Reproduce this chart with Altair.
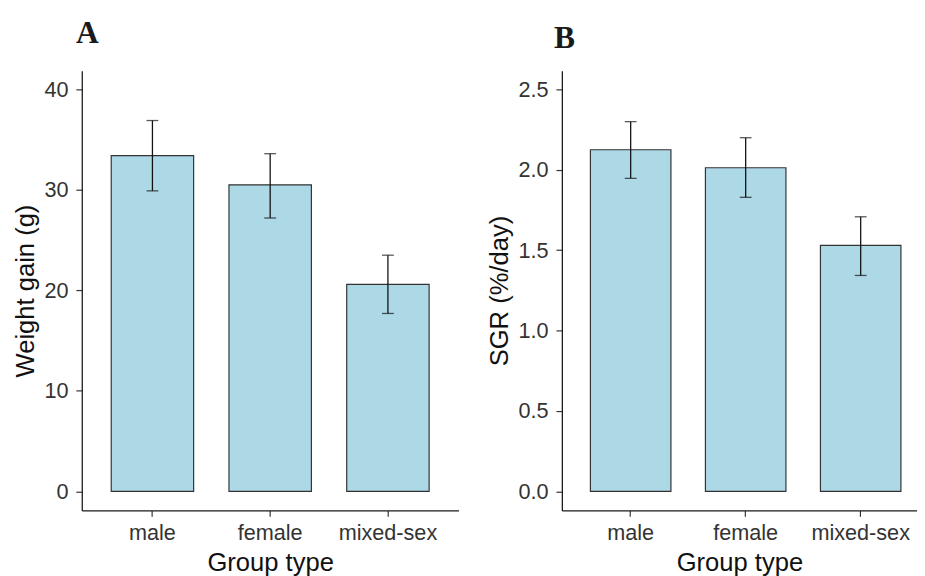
import altair as alt
import pandas as pd

groups = ["male", "female", "mixed-sex"]

weight_gain = [33.4, 30.5, 20.6]
weight_lo = [29.9, 27.2, 17.7]
weight_hi = [36.9, 33.6, 23.5]

sgr = [2.125, 2.013, 1.53]
sgr_lo = [1.947, 1.829, 1.343]
sgr_hi = [2.30, 2.20, 1.708]

weight_ticks = [0, 10, 20, 30, 40]
sgr_ticks = [0.0, 0.5, 1.0, 1.5, 2.0, 2.5]

LABEL_FONT = "Liberation Sans"
TITLE_FONT = "Liberation Serif"


def panel(values, lo, hi, ytitle, domain, ticks, fmt, width, x_scale, letter, t_dy, t_dx):
    df = pd.DataFrame({"group": groups, "value": values, "lo": lo, "hi": hi})
    x = alt.X(
        "group:N",
        sort=groups,
        scale=x_scale,
        axis=alt.Axis(title="Group type", labelAngle=0, labelPadding=7, titlePadding=6),
    )
    yscale = alt.Scale(domain=domain, nice=False, zero=False)
    base = alt.Chart(df).encode(x=x)
    bars = base.mark_bar(fill="#ADD8E6", stroke="#333333", strokeWidth=1.2).encode(
        y=alt.Y(
            "value:Q",
            scale=yscale,
            axis=alt.Axis(title=ytitle, values=ticks, format=fmt, labelPadding=8, titlePadding=6),
        )
    )
    rule = base.mark_rule(color="#111111", strokeWidth=1.3).encode(y="lo:Q", y2="hi:Q")
    cap_lo = base.mark_tick(color="#111111", size=12, thickness=1.3).encode(y="lo:Q")
    cap_hi = base.mark_tick(color="#111111", size=12, thickness=1.3).encode(y="hi:Q")
    return alt.layer(bars, rule, cap_lo, cap_hi).properties(
        width=width,
        height=447,
        title=alt.TitleParams(
            text=letter,
            anchor="start",
            frame="group",
            font=TITLE_FONT,
            fontSize=32,
            fontWeight="bold",
            color="#1a1a1a",
            baseline="alphabetic",
            offset=0,
            dy=t_dy,
            dx=t_dx,
        ),
    )


panel_a = panel(
    weight_gain, weight_lo, weight_hi, "Weight gain (g)", [-1.9, 41.86], weight_ticks, "d", 383,
    alt.Scale(paddingInner=0.3, paddingOuter=0.25), "A", 4, -6,
)
panel_b = panel(
    sgr, sgr_lo, sgr_hi, "SGR (%/day)", [-0.119, 2.617], sgr_ticks, ".1f", 361,
    alt.Scale(paddingInner=0.3, paddingOuter=0.194, align=0.64), "B", 9, -8,
)

chart = (
    alt.hconcat(panel_a, panel_b, spacing=28)
    .properties(padding={"left": 4, "top": 5, "right": 0, "bottom": 0})
    .configure_view(stroke=None)
    .configure_axis(
        grid=False,
        domainColor="#1a1a1a",
        domainWidth=1.3,
        tickColor="#333333",
        tickWidth=1.2,
        tickSize=6,
        labelFont=LABEL_FONT,
        labelFontSize=22,
        labelColor="#333333",
        titleFont=LABEL_FONT,
        titleFontSize=26,
        titleFontWeight="normal",
        titleColor="#111111",
    )
)

chart.save("out.html", embed_options={"renderer": "svg", "actions": False})
